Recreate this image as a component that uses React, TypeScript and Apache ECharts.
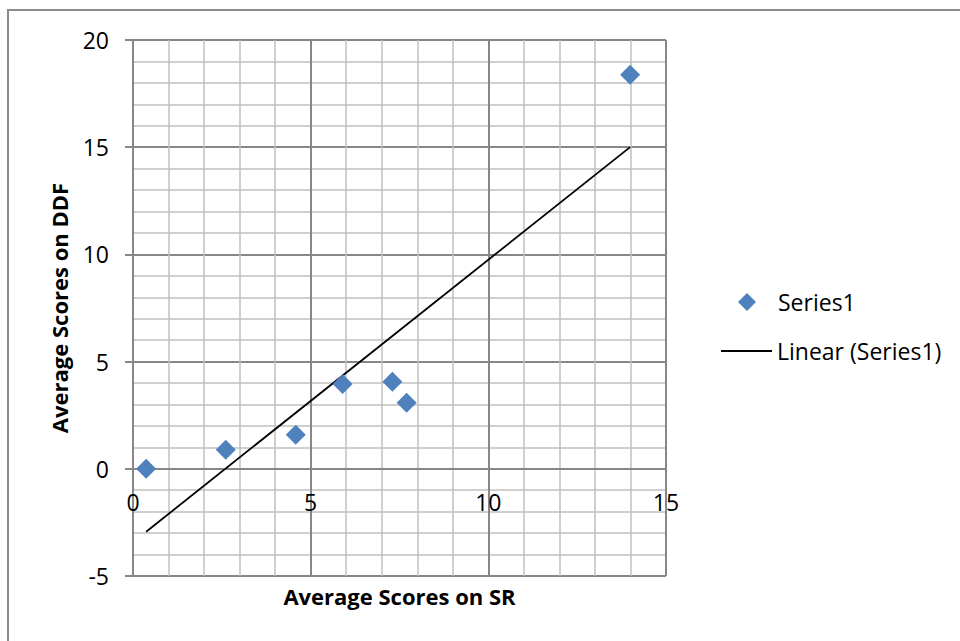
import React, { useEffect, useRef } from "react";
import * as echarts from "echarts";

const srScores = [0.37, 2.61, 4.58, 5.9, 7.3, 7.7, 13.99];
const ddfScores = [0, 0.89, 1.59, 3.96, 4.06, 3.08, 18.38];
const xTicks = [0, 15, 5];
const yTicks = [-5, 20, 5];
const seriesName = "Series1";
const trendName = "Linear (Series1)";

function linearFit(xs: number[], ys: number[]) {
  const n = xs.length;
  const mx = xs.reduce((a, b) => a + b, 0) / n;
  const my = ys.reduce((a, b) => a + b, 0) / n;
  let sxy = 0;
  let sxx = 0;
  for (let i = 0; i < n; i++) {
    sxy += (xs[i] - mx) * (ys[i] - my);
    sxx += (xs[i] - mx) * (xs[i] - mx);
  }
  const slope = sxy / sxx;
  const intercept = my - slope * mx;
  return { slope, intercept };
}

const GRID_TOP = 40;
const GRID_BOTTOM = 65;
const CHART_H = 641;

export default function App() {
  const ref = useRef<HTMLDivElement>(null);
  useEffect(() => {
    document.body.style.margin = "0";
    const chart = echarts.init(ref.current!, null, { renderer: "svg" });
    const { slope, intercept } = linearFit(srScores, ddfScores);
    const x0 = Math.min(...srScores);
    const x1 = Math.max(...srScores);
    const trend = [
      [x0, slope * x0 + intercept],
      [x1, slope * x1 + intercept],
    ];
    const font = "'Open Sans', 'Noto Sans', sans-serif";
    const major = "#878787";
    const minor = "#c0c0c0";
    const gridH = CHART_H - GRID_TOP - GRID_BOTTOM;
    // place the x axis where y = 0 (axis crosses at zero)
    const zeroOffset = -gridH * (0 - yTicks[0]) / (yTicks[1] - yTicks[0]);
    chart.setOption({
      animation: false,
      backgroundColor: "#ffffff",
      textStyle: { fontFamily: font },
      graphic: [
        {
          type: "rect",
          shape: { x: 8, y: 10, width: 1000, height: 700 },
          style: { fill: "none", stroke: "#8c8c8c", lineWidth: 2 },
          silent: true,
          z: -1,
        },
      ],
      grid: {
        left: 133,
        top: GRID_TOP,
        right: 294,
        bottom: GRID_BOTTOM,
        containLabel: false,
        outerBoundsMode: "none",
      },
      legend: [
        {
          data: [{ name: seriesName, icon: "diamond", itemStyle: { color: "#4f81bd", opacity: 1 } }],
          orient: "vertical",
          left: 733,
          top: 283,
          itemWidth: 18,
          itemHeight: 18,
          textStyle: { fontFamily: font, fontSize: 23, color: "#000", padding: [0, 0, 0, 17], lineHeight: 28 },
        },
        {
          data: [{ name: trendName, icon: "rect", itemStyle: { color: "#000" } }],
          orient: "vertical",
          left: 716,
          top: 332,
          itemWidth: 51,
          itemHeight: 2,
          textStyle: { fontFamily: font, fontSize: 23, color: "#000", lineHeight: 28 },
        },
      ],
      xAxis: {
        type: "value",
        min: xTicks[0],
        max: xTicks[1],
        interval: xTicks[2],
        offset: zeroOffset,
        name: "Average Scores on SR",
        nameLocation: "middle",
        nameGap: 116,
        nameTextStyle: { fontFamily: font, fontSize: 22, fontWeight: "bold", color: "#000" },
        axisLine: { show: true, onZero: false, lineStyle: { color: major, width: 2 } },
        axisTick: { show: false },
        axisLabel: { fontFamily: font, fontSize: 23, color: "#000", margin: 22 },
        splitLine: { show: true, lineStyle: { color: major, width: 2 } },
        minorTick: { show: false, splitNumber: 5 },
        minorSplitLine: { show: true, lineStyle: { color: minor, width: 1.5 } },
      },
      yAxis: {
        type: "value",
        min: yTicks[0],
        max: yTicks[1],
        interval: yTicks[2],
        name: "Average Scores on DDF",
        nameLocation: "middle",
        nameGap: 63,
        nameRotate: 90,
        nameTextStyle: { fontFamily: font, fontSize: 22, fontWeight: "bold", color: "#000" },
        axisLine: { show: true, onZero: false, lineStyle: { color: major, width: 2 } },
        axisTick: { show: true, inside: false, length: 8, lineStyle: { color: major, width: 2 } },
        axisLabel: { fontFamily: font, fontSize: 23, color: "#000", margin: 24 },
        splitLine: { show: true, lineStyle: { color: major, width: 2 } },
        minorTick: { show: false, splitNumber: 5 },
        minorSplitLine: { show: true, lineStyle: { color: minor, width: 1.5 } },
      },
      series: [
        {
          name: seriesName,
          type: "scatter",
          symbol: "diamond",
          symbolSize: 20,
          itemStyle: { color: "#4f81bd", opacity: 1 },
          data: srScores.map((x, i) => [x, ddfScores[i]]),
          z: 3,
        },
        {
          name: trendName,
          type: "line",
          symbol: "none",
          showSymbol: false,
          lineStyle: { color: "#000", width: 1.8 },
          itemStyle: { color: "#000" },
          data: trend,
          z: 2,
        },
      ],
    });
    return () => chart.dispose();
  }, []);
  return <div ref={ref} style={{ position: "fixed", left: 0, top: 0, width: 960, height: 641 }} />;
}
